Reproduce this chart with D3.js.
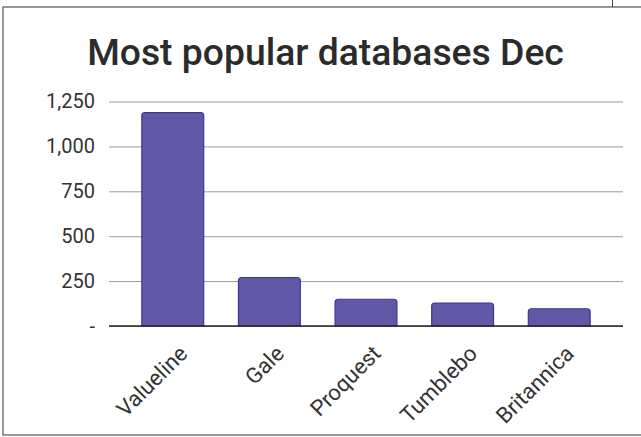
<!DOCTYPE html>
<html><head><meta charset="utf-8">
<script src="https://cdn.jsdelivr.net/npm/d3@7"></script>
<style>html,body{margin:0;padding:0;background:#fff;}svg{display:block;}</style>
</head><body>
<svg id="c" width="641" height="437"></svg>
<script>
const title = "Most popular databases Dec";
const categories = ["Valueline", "Gale", "Proquest", "Tumblebo", "Britannica"];
const values = [1188, 270, 149, 128, 96];
const yTicks = [0, 250, 500, 750, 1000, 1250];
const yTickLabels = ["-", "250", "500", "750", "1,000", "1,250"];

const svg = d3.select("#c");
const W = 641, H = 437;
const m = {left: 109, right: 18, top: 101.5, bottom: 111};
const x = d3.scaleBand().domain(categories).range([m.left, W - m.right]).paddingInner(0.36).paddingOuter(0.34);
const y = d3.scaleLinear().domain([0, 1250]).range([H - m.bottom, m.top]);

// outer frame
svg.append("rect").attr("x", 3).attr("y", 7).attr("width", 660).attr("height", 428)
  .attr("fill", "none").attr("stroke", "#555").attr("stroke-width", 1.2);
svg.append("line").attr("x1", 612.5).attr("x2", 612.5).attr("y1", 0).attr("y2", 7)
  .attr("stroke", "#444").attr("stroke-width", 1);

svg.append("text").attr("x", 325.5).attr("y", 64.5)
  .attr("text-anchor", "middle").attr("font-family", "Roboto").attr("font-weight", 500)
  .attr("font-size", 37.3).attr("fill", "#2b2b2b").text(title);

// y axis
const ya = svg.append("g").attr("transform", `translate(${m.left},0)`)
  .call(d3.axisLeft(y).tickValues(yTicks).tickSize(-(W - m.right - m.left)).tickPadding(14)
    .tickFormat((d, i) => yTickLabels[i]));
ya.select(".domain").remove();
ya.selectAll(".tick line").attr("stroke", "#9a9a9a").attr("stroke-width", 1);
ya.selectAll(".tick text").attr("font-family", "Roboto").attr("font-size", 20).attr("fill", "#333");

// bars with rounded tops
const r = 3;
svg.append("g").selectAll("path").data(values).join("path")
  .attr("d", (v, i) => {
    const x0 = x(categories[i]), w = x.bandwidth(), y0 = y(v), yb = y(0);
    return `M${x0},${yb}V${y0 + r}Q${x0},${y0} ${x0 + r},${y0}H${x0 + w - r}Q${x0 + w},${y0} ${x0 + w},${y0 + r}V${yb}Z`;
  })
  .attr("fill", "#6258a8").attr("stroke", "#3f3494").attr("stroke-width", 1.2);

// baseline
svg.append("line").attr("x1", m.left).attr("x2", W - m.right).attr("y1", y(0)).attr("y2", y(0))
  .attr("stroke", "#222").attr("stroke-width", 1.6);

// x labels
svg.append("g").selectAll("text").data(categories).join("text")
  .attr("transform", d => `translate(${x(d) + x.bandwidth() / 2 + 16},${y(0) + 29}) rotate(-45)`)
  .attr("text-anchor", "end").attr("font-family", "Roboto").attr("font-size", 22).attr("fill", "#333")
  .text(d => d);
</script>
</body></html>
